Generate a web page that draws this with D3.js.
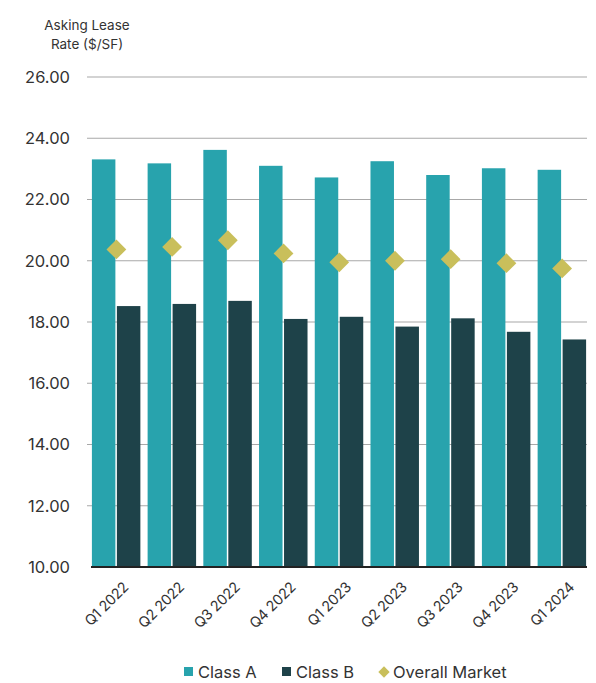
<!DOCTYPE html>
<html>
<head>
<meta charset="utf-8">
<script src="https://cdn.jsdelivr.net/npm/d3@7"></script>
<style>
  body { margin: 0; background: #fff; }
  text { font-family: Inter, "Open Sans", sans-serif; fill: #333; }
</style>
</head>
<body>
<svg id="chart" width="596" height="683"></svg>
<script>
var quarters = ["Q1 2022", "Q2 2022", "Q3 2022", "Q4 2022", "Q1 2023", "Q2 2023", "Q3 2023", "Q4 2023", "Q1 2024"]
var classA = [23.31, 23.18, 23.62, 23.1, 22.72, 23.25, 22.8, 23.02, 22.97]
var classB = [18.52, 18.59, 18.69, 18.1, 18.17, 17.85, 18.12, 17.68, 17.43]
var overallMarket = [20.37, 20.45, 20.67, 20.24, 19.95, 20.0, 20.05, 19.92, 19.75]
var yTicks = [10, 12, 14, 16, 18, 20, 22, 24, 26]

var colorA = "#28a3ad"
var colorB = "#1e4249"
var colorDiamond = "#c9bf5b"

var svg = d3.select("#chart")

var y = d3.scaleLinear().domain([10, 26]).range([567, 77])
var x = d3.scaleBand().domain(quarters).range([88, 590]).paddingInner(0.13).paddingOuter(0.07)
var xInner = d3.scaleBand().domain(["A", "B"]).range([0, x.bandwidth()]).paddingInner(0.06)

// gridlines
svg.append("g")
    .selectAll("line")
    .data(yTicks.slice(1))
    .enter()
    .append("line")
    .attr("x1", 87)
    .attr("x2", 587)
    .attr("y1", d => y(d))
    .attr("y2", d => y(d))
    .attr("stroke", "#a8a8a8")
    .attr("stroke-width", 1.2)

// y axis labels
var yAxis = d3.axisLeft(y).tickValues(yTicks).tickFormat(d3.format(".2f")).tickSize(0).tickPadding(0)
svg.append("g")
    .attr("transform", "translate(70,0)")
    .call(yAxis)
    .call(g => g.select(".domain").remove())
    .selectAll("text")
    .style("font-size", "16.5px")
    .style("fill", "#333")

// title
svg.append("text").attr("x", 87).attr("y", 30).attr("text-anchor", "middle")
    .style("font-size", "13.5px").text("Asking Lease")
svg.append("text").attr("x", 87).attr("y", 49).attr("text-anchor", "middle")
    .style("font-size", "13.5px").text("Rate ($/SF)")

// bars
var groups = svg.append("g")
    .selectAll("g")
    .data(quarters)
    .enter()
    .append("g")
    .attr("transform", d => "translate(" + x(d) + ",0)")

groups.append("rect")
    .attr("x", xInner("A"))
    .attr("width", xInner.bandwidth())
    .attr("y", (d, i) => y(classA[i]))
    .attr("height", (d, i) => y(10) - y(classA[i]))
    .attr("fill", colorA)

groups.append("rect")
    .attr("x", xInner("B"))
    .attr("width", xInner.bandwidth())
    .attr("y", (d, i) => y(classB[i]))
    .attr("height", (d, i) => y(10) - y(classB[i]))
    .attr("fill", colorB)

// overall market diamonds
groups.append("rect")
    .attr("x", -7)
    .attr("y", -7)
    .attr("width", 14)
    .attr("height", 14)
    .attr("fill", colorDiamond)
    .attr("transform", (d, i) => "translate(" + (xInner("A") + xInner.bandwidth() + 1) + "," + y(overallMarket[i]) + ") rotate(45)")

// baseline
svg.append("line")
    .attr("x1", 91).attr("x2", 587)
    .attr("y1", y(10)).attr("y2", y(10))
    .attr("stroke", "#222").attr("stroke-width", 2)

// x axis labels
var xAxis = d3.axisBottom(x).tickSize(0).tickPadding(0)
svg.append("g")
    .attr("transform", "translate(0," + (y(10) + 12) + ")")
    .call(xAxis)
    .call(g => g.select(".domain").remove())
    .selectAll("text")
    .attr("x", 0)
    .attr("y", 0)
    .attr("dy", "0.7em")
    .attr("transform", "translate(6,2) rotate(-45)")
    .style("text-anchor", "end")
    .style("font-size", "14.5px")
    .style("letter-spacing", "-0.3px")
    .style("fill", "#333")

// legend
var legendY = 672
var legend = svg.append("g")
legend.append("rect").attr("x", 184).attr("y", legendY - 5).attr("width", 9).attr("height", 9).attr("fill", colorA)
legend.append("text").attr("x", 198).attr("y", legendY).attr("dy", "0.35em").style("font-size", "16.5px").text("Class A")
legend.append("rect").attr("x", 282).attr("y", legendY - 5).attr("width", 9).attr("height", 9).attr("fill", colorB)
legend.append("text").attr("x", 296).attr("y", legendY).attr("dy", "0.35em").style("font-size", "16.5px").text("Class B")
legend.append("rect").attr("x", -4).attr("y", -4).attr("width", 8).attr("height", 8).attr("fill", colorDiamond)
    .attr("transform", "translate(384," + legendY + ") rotate(45)")
legend.append("text").attr("x", 393).attr("y", legendY).attr("dy", "0.35em").style("font-size", "16.5px").text("Overall Market")
</script>
</body>
</html>
